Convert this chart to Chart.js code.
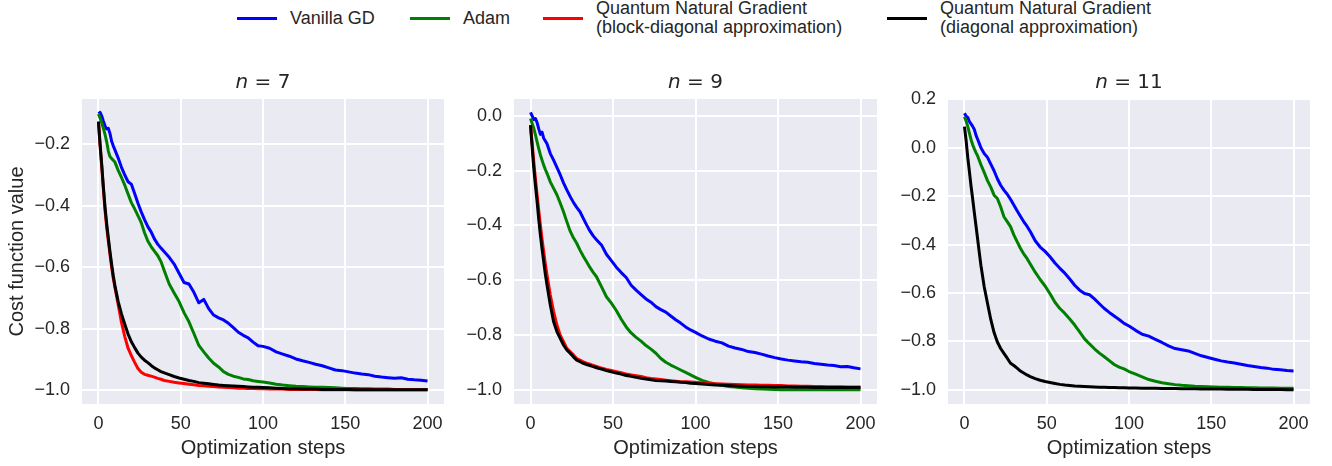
<!DOCTYPE html>
<html>
<head>
<meta charset="utf-8">
<script src="https://cdn.jsdelivr.net/npm/chart.js@4.4.1/dist/chart.umd.min.js"></script>
<style>
  body { margin: 0; width: 1332px; height: 466px; background: #fff; position: relative; overflow: hidden;
         font-family: "Liberation Sans", Arial, sans-serif; color: #262626; }
  canvas { position: absolute; top: 55px; }
  .legend-item { position: absolute; top: 0; height: 36px; display: flex; align-items: center;
                 font-size: 18px; line-height: 19px; white-space: nowrap; }
  .legend-item .swatch { width: 40px; height: 3px; margin-right: 13px; flex: none; }
</style>
</head>
<body>
<div id="legend"></div>
<canvas id="c7" width="464" height="411" style="left:0px"></canvas>
<canvas id="c9" width="465" height="411" style="left:432px"></canvas>
<canvas id="c11" width="464" height="411" style="left:866px"></canvas>
<script>
var steps = [0,1,2,3,4,5,6,7,8,9,10,
  12,14,16,18,20,22,24,26,28,30,32,34,36,38,40,
  43,46,49,52,55,58,61,64,67,70,73,76,79,82,85,88,91,94,97,100,
  104,108,112,116,120,124,128,132,136,140,144,148,152,156,160,164,168,172,176,180,184,188,192,196,200];

var seriesLabels = ['Vanilla GD', 'Adam',
  'Quantum Natural Gradient\n(block-diagonal approximation)',
  'Quantum Natural Gradient\n(diagonal approximation)'];
var seriesColors = ['#0000ff', '#008000', '#ff0000', '#000000'];

var xTicks = [0, 50, 100, 150, 200];
var yTicks7 = [-1.0, -0.8, -0.6, -0.4, -0.2];
var yTicks9 = [-1.0, -0.8, -0.6, -0.4, -0.2, 0.0];
var yTicks11 = [-1.0, -0.8, -0.6, -0.4, -0.2, 0.0, 0.2];

// n = 7
var n7Vanilla = [-0.100,-0.096,-0.108,-0.125,-0.140,-0.150,-0.148,-0.165,-0.190,-0.205,-0.218,
  -0.245,-0.275,-0.300,-0.322,-0.330,-0.360,-0.392,-0.420,-0.445,-0.468,-0.485,-0.508,-0.525,-0.538,-0.550,
  -0.568,-0.590,-0.620,-0.650,-0.655,-0.682,-0.716,-0.705,-0.735,-0.756,-0.765,-0.772,-0.783,-0.797,-0.812,-0.822,-0.830,-0.844,-0.856,-0.858,
  -0.864,-0.876,-0.883,-0.890,-0.899,-0.905,-0.910,-0.916,-0.921,-0.928,-0.935,-0.937,-0.941,-0.945,-0.948,-0.950,-0.955,-0.958,-0.960,-0.962,-0.960,-0.965,-0.967,-0.968,-0.971];
var n7Adam = [-0.101,-0.115,-0.130,-0.148,-0.168,-0.192,-0.222,-0.240,-0.246,-0.252,-0.258,
  -0.285,-0.308,-0.333,-0.362,-0.390,-0.410,-0.432,-0.455,-0.488,-0.515,-0.533,-0.548,-0.562,-0.582,-0.612,
  -0.655,-0.684,-0.712,-0.748,-0.778,-0.816,-0.855,-0.876,-0.896,-0.913,-0.925,-0.940,-0.949,-0.955,-0.959,-0.964,-0.966,-0.970,-0.972,-0.974,
  -0.977,-0.981,-0.984,-0.986,-0.988,-0.989,-0.990,-0.991,-0.991,-0.992,-0.993,-0.994,-0.995,-0.995,-0.996,-0.996,-0.997,-0.997,-0.997,-0.998,-0.998,-0.998,-0.998,-0.998,-0.998];
var n7QngBlock = [-0.126,-0.205,-0.272,-0.345,-0.415,-0.470,-0.515,-0.558,-0.600,-0.636,-0.665,
  -0.722,-0.780,-0.826,-0.864,-0.888,-0.910,-0.930,-0.942,-0.949,-0.952,-0.955,-0.958,-0.962,-0.965,-0.969,
  -0.972,-0.975,-0.977,-0.979,-0.981,-0.983,-0.985,-0.986,-0.988,-0.989,-0.990,-0.991,-0.992,-0.993,-0.994,-0.994,-0.995,-0.995,-0.996,-0.996,
  -0.997,-0.997,-0.997,-0.998,-0.998,-0.998,-0.998,-0.998,-0.999,-0.999,-0.999,-0.999,-0.999,-0.999,-0.999,-0.999,-0.999,-0.999,-0.999,-0.999,-0.999,-0.999,-0.999,-0.999,-0.999];
var n7QngDiag = [-0.126,-0.200,-0.268,-0.340,-0.405,-0.458,-0.505,-0.550,-0.590,-0.628,-0.660,
  -0.712,-0.752,-0.786,-0.818,-0.843,-0.862,-0.880,-0.893,-0.903,-0.911,-0.920,-0.928,-0.934,-0.940,-0.944,
  -0.950,-0.956,-0.961,-0.965,-0.969,-0.972,-0.976,-0.978,-0.980,-0.982,-0.984,-0.985,-0.986,-0.987,-0.988,-0.989,-0.990,-0.991,-0.991,-0.992,
  -0.993,-0.994,-0.995,-0.996,-0.996,-0.997,-0.997,-0.997,-0.998,-0.998,-0.998,-0.998,-0.998,-0.999,-0.999,-0.999,-0.999,-0.999,-0.999,-0.999,-0.999,-0.999,-0.999,-0.999,-0.999];

// n = 9
var n9Vanilla = [0.012,0.000,-0.014,-0.010,-0.025,-0.048,-0.068,-0.060,-0.082,-0.092,-0.102,
  -0.138,-0.162,-0.188,-0.215,-0.245,-0.270,-0.294,-0.316,-0.334,-0.350,-0.374,-0.398,-0.420,-0.438,-0.452,
  -0.471,-0.505,-0.528,-0.552,-0.572,-0.590,-0.618,-0.636,-0.652,-0.668,-0.680,-0.696,-0.707,-0.716,-0.730,-0.744,-0.756,-0.770,-0.781,-0.790,
  -0.803,-0.814,-0.822,-0.828,-0.840,-0.847,-0.852,-0.860,-0.863,-0.869,-0.876,-0.882,-0.887,-0.891,-0.894,-0.897,-0.899,-0.903,-0.906,-0.909,-0.911,-0.915,-0.914,-0.919,-0.923];
var n9Adam = [-0.010,-0.028,-0.046,-0.070,-0.095,-0.120,-0.143,-0.162,-0.180,-0.196,-0.210,
  -0.241,-0.265,-0.288,-0.318,-0.350,-0.386,-0.420,-0.445,-0.465,-0.490,-0.512,-0.532,-0.553,-0.571,-0.587,
  -0.623,-0.660,-0.683,-0.710,-0.742,-0.770,-0.792,-0.808,-0.822,-0.838,-0.851,-0.866,-0.885,-0.899,-0.909,-0.918,-0.927,-0.936,-0.945,-0.954,
  -0.965,-0.972,-0.978,-0.983,-0.987,-0.989,-0.992,-0.994,-0.995,-0.996,-0.997,-0.998,-0.999,-0.999,-0.999,-0.999,-0.999,-0.999,-0.999,-0.999,-0.999,-0.999,-0.999,-0.999,-0.999];
var n9QngBlock = [-0.034,-0.100,-0.168,-0.230,-0.289,-0.345,-0.399,-0.450,-0.496,-0.540,-0.581,
  -0.654,-0.714,-0.763,-0.800,-0.824,-0.848,-0.860,-0.872,-0.885,-0.891,-0.897,-0.902,-0.906,-0.910,-0.914,
  -0.920,-0.925,-0.929,-0.933,-0.937,-0.942,-0.945,-0.948,-0.951,-0.955,-0.958,-0.960,-0.962,-0.964,-0.966,-0.968,-0.970,-0.970,-0.971,-0.972,
  -0.974,-0.976,-0.977,-0.978,-0.979,-0.980,-0.981,-0.982,-0.982,-0.983,-0.983,-0.984,-0.984,-0.985,-0.985,-0.986,-0.986,-0.987,-0.987,-0.988,-0.988,-0.988,-0.989,-0.989,-0.989];
var n9QngDiag = [-0.034,-0.115,-0.192,-0.255,-0.313,-0.378,-0.435,-0.485,-0.532,-0.578,-0.617,
  -0.690,-0.751,-0.787,-0.812,-0.836,-0.854,-0.866,-0.879,-0.891,-0.897,-0.903,-0.907,-0.911,-0.915,-0.919,
  -0.924,-0.929,-0.934,-0.938,-0.942,-0.947,-0.950,-0.954,-0.957,-0.960,-0.963,-0.965,-0.966,-0.967,-0.969,-0.970,-0.972,-0.973,-0.975,-0.976,
  -0.978,-0.980,-0.982,-0.983,-0.984,-0.985,-0.986,-0.987,-0.987,-0.988,-0.988,-0.989,-0.989,-0.989,-0.990,-0.990,-0.990,-0.991,-0.991,-0.991,-0.991,-0.991,-0.991,-0.991,-0.991];

// n = 11 (no block-diagonal run)
var n11Vanilla = [0.142,0.130,0.125,0.108,0.098,0.088,0.075,0.052,0.035,0.018,0.000,
  -0.024,-0.040,-0.068,-0.095,-0.128,-0.155,-0.175,-0.192,-0.213,-0.237,-0.260,-0.283,-0.305,-0.324,-0.346,
  -0.384,-0.410,-0.428,-0.450,-0.476,-0.498,-0.518,-0.542,-0.568,-0.588,-0.602,-0.607,-0.624,-0.644,-0.664,-0.680,-0.695,-0.709,-0.725,-0.736,
  -0.754,-0.770,-0.778,-0.791,-0.804,-0.818,-0.829,-0.834,-0.839,-0.849,-0.859,-0.866,-0.873,-0.880,-0.885,-0.889,-0.894,-0.899,-0.903,-0.907,-0.910,-0.915,-0.917,-0.920,-0.922];
var n11Adam = [0.128,0.110,0.088,0.060,0.034,0.012,-0.005,-0.020,-0.034,-0.052,-0.070,
  -0.102,-0.136,-0.163,-0.196,-0.210,-0.244,-0.285,-0.305,-0.326,-0.360,-0.388,-0.415,-0.438,-0.457,-0.480,
  -0.514,-0.544,-0.571,-0.603,-0.638,-0.664,-0.684,-0.707,-0.732,-0.760,-0.789,-0.810,-0.830,-0.848,-0.863,-0.879,-0.895,-0.906,-0.913,-0.924,
  -0.935,-0.946,-0.957,-0.964,-0.970,-0.974,-0.978,-0.981,-0.983,-0.985,-0.986,-0.987,-0.988,-0.989,-0.989,-0.990,-0.990,-0.991,-0.991,-0.992,-0.992,-0.992,-0.993,-0.993,-0.993];
var n11QngDiag = [0.087,0.030,-0.040,-0.098,-0.158,-0.212,-0.268,-0.322,-0.377,-0.432,-0.485,
  -0.574,-0.642,-0.709,-0.763,-0.802,-0.829,-0.849,-0.869,-0.890,-0.899,-0.910,-0.922,-0.930,-0.938,-0.945,
  -0.953,-0.960,-0.965,-0.969,-0.973,-0.977,-0.980,-0.982,-0.984,-0.985,-0.986,-0.987,-0.988,-0.989,-0.989,-0.990,-0.990,-0.991,-0.991,-0.992,
  -0.992,-0.993,-0.993,-0.993,-0.994,-0.994,-0.994,-0.995,-0.995,-0.995,-0.996,-0.996,-0.996,-0.996,-0.997,-0.997,-0.997,-0.997,-0.998,-0.998,-0.998,-0.998,-0.998,-0.999,-0.999];

var textColor = '#262626';
var sansFont = '"Liberation Sans", Arial, sans-serif';

// figure legend, shared by the three panels
var legendLeft = [237, 410, 543, 887];
var legendBox = document.getElementById('legend');
seriesLabels.forEach(function (label, i) {
  var item = document.createElement('div');
  item.className = 'legend-item';
  item.style.left = legendLeft[i] + 'px';
  var sw = document.createElement('span');
  sw.className = 'swatch';
  sw.style.background = seriesColors[i];
  var txt = document.createElement('span');
  txt.innerText = label;
  item.appendChild(sw);
  item.appendChild(txt);
  legendBox.appendChild(item);
});

// seaborn-like grey plot area
var plotBg = {
  id: 'plotBg',
  beforeDraw: function (chart) {
    var a = chart.chartArea, ctx = chart.ctx;
    ctx.save();
    ctx.fillStyle = '#eaeaf2';
    ctx.fillRect(a.left, a.top, a.right - a.left, a.bottom - a.top);
    ctx.restore();
  }
};

// "n = 7" title with an italic n
var mathTitle = {
  id: 'mathTitle',
  afterDraw: function (chart, args, opts) {
    var a = chart.chartArea, ctx = chart.ctx;
    var italic = 'italic 20px "DejaVu Sans"';
    var upright = '20px "DejaVu Sans"';
    var rest = ' = ' + opts.n;
    ctx.save();
    ctx.font = italic;
    var w1 = ctx.measureText('n').width;
    ctx.font = upright;
    var w2 = ctx.measureText(rest).width;
    var x = (a.left + a.right) / 2 - (w1 + w2) / 2;
    ctx.fillStyle = textColor;
    ctx.textBaseline = 'alphabetic';
    ctx.font = italic;
    ctx.fillText('n', x, opts.y);
    ctx.font = upright;
    ctx.fillText(rest, x + w1, opts.y);
    ctx.restore();
  }
};

function fmtY(v) {
  return (v < 0 ? '\u2212' : '') + Math.abs(v).toFixed(1);
}

// series: one entry per legend item, null where a panel has no run
function makePanel(id, n, series, yTicks, yMin, yMax, showYTitle) {
  var datasets = [];
  series.forEach(function (vals, i) {
    if (!vals) return;
    datasets.push({
      label: seriesLabels[i].replace('\n', ' '),
      data: steps.map(function (s, k) { return {x: s, y: vals[k]}; }),
      borderColor: seriesColors[i],
      backgroundColor: seriesColors[i],
      borderWidth: 3,
      pointRadius: 0,
      tension: 0,
      fill: false,
      borderJoinStyle: 'round',
      order: series.length - i
    });
  });
  return new Chart(document.getElementById(id), {
    type: 'line',
    data: { datasets: datasets },
    options: {
      responsive: false,
      animation: false,
      layout: { padding: { top: 44, right: 20, left: 0, bottom: 0 } },
      plugins: {
        legend: { display: false },
        tooltip: { enabled: false },
        mathTitle: { n: n, y: 33 }
      },
      scales: {
        x: {
          type: 'linear', min: -10, max: 210,
          afterBuildTicks: function (s) { s.ticks = xTicks.map(function (v) { return {value: v}; }); },
          afterFit: function (s) { s.height = 62; },
          grid: { color: '#ffffff', lineWidth: 2, drawTicks: false },
          border: { display: false },
          ticks: { padding: 9, color: textColor, maxRotation: 0, autoSkip: false,
                   font: { family: sansFont, size: 18 },
                   callback: function (v) { return String(v); } },
          title: { display: true, text: 'Optimization steps', color: textColor,
                   font: { family: sansFont, size: 20 }, padding: { top: 0, bottom: 6 } }
        },
        y: {
          type: 'linear', min: yMin, max: yMax,
          afterBuildTicks: function (s) { s.ticks = yTicks.map(function (v) { return {value: v}; }); },
          afterFit: function (s) { s.width = 82; },
          grid: { color: '#ffffff', lineWidth: 2, drawTicks: false },
          border: { display: false },
          ticks: { padding: 12, color: textColor, autoSkip: false,
                   font: { family: sansFont, size: 18 },
                   callback: function (v) { return fmtY(v); } },
          title: { display: showYTitle, text: 'Cost function value', color: textColor,
                   font: { family: sansFont, size: 20 }, padding: { top: 5, bottom: 0 } }
        }
      }
    },
    plugins: [plotBg, mathTitle]
  });
}

makePanel('c7', '7', [n7Vanilla, n7Adam, n7QngBlock, n7QngDiag], yTicks7, -1.0456, -0.0525, true);
makePanel('c9', '9', [n9Vanilla, n9Adam, n9QngBlock, n9QngDiag], yTicks9, -1.051, 0.061, false);
makePanel('c11', '11', [n11Vanilla, n11Adam, null, n11QngDiag], yTicks11, -1.058, 0.201, false);
</script>
</body>
</html>
